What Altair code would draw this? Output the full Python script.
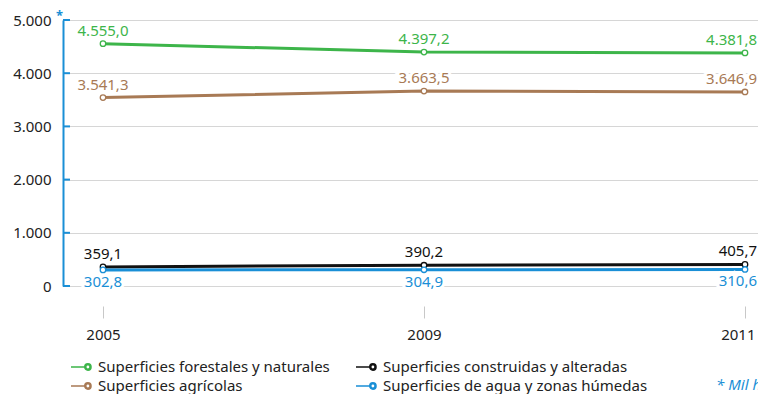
import altair as alt
import pandas as pd

FONT = "Noto Sans"
years = ["2005", "2009", "2011"]
series = [
    "Superficies forestales y naturales",
    "Superficies agrícolas",
    "Superficies construidas y alteradas",
    "Superficies de agua y zonas húmedas",
]
forestales = [4555.0, 4397.2, 4381.8]
agricolas = [3541.3, 3663.5, 3646.9]
construidas = [359.1, 390.2, 405.7]
agua = [302.8, 304.9, 310.6]
colors = ["#3db54a", "#a87a55", "#111111", "#1a8fd6"]
y_ticks = [0, 1000, 2000, 3000, 4000, 5000]
BLUE = "#1a8fd6"


def fmt(v):
    s = f"{v:,.1f}"
    return s.replace(",", "X").replace(".", ",").replace("X", ".")


rows = []
for s, vals in zip(series, [forestales, agricolas, construidas, agua]):
    for i, (yr, v) in enumerate(zip(years, vals)):
        rows.append({"serie": s, "idx": i, "year": yr, "value": v, "label": fmt(v),
                     "pos": "below" if s == series[3] else "above"})
df = pd.DataFrame(rows)

year_arr = "[" + ",".join(f"'{y}'" for y in years) + "]"

X = alt.X("idx:Q",
          scale=alt.Scale(domain=[-0.1246, 2.0405], nice=False, zero=False),
          axis=alt.Axis(values=[0, 1, 2], labelExpr=f"{year_arr}[datum.value]",
                        grid=False, domain=False, ticks=True, tickColor="#c8c8c8",
                        tickSize=12, offset=20, labelPadding=9, title=None,
                        labelFlush=15, labelFlushOffset=10,
                        labelFontSize=15, labelColor="#222", labelFont=FONT))
Y = alt.Y("value:Q",
          scale=alt.Scale(domain=[0, 5000], nice=False),
          axis=alt.Axis(values=y_ticks,
                        labelExpr="replace(format(datum.value, ','), ',', '.')",
                        grid=True, gridColor="#d6d6d6", gridWidth=1,
                        domainColor=BLUE, domainWidth=2, ticks=False,
                        labelPadding=12, title=None, labelFontSize=15,
                        labelColor="#222", labelFont=FONT))

SCALE = alt.Scale(domain=series, range=colors)
# line + ring (outer and inner circle in opposite directions -> hollow centre)
SYMBOL = ("M-1,0L0.38,0"
          "M0.38,0A0.31,0.31,0,1,1,1,0A0.31,0.31,0,1,1,0.38,0Z"
          "M0.47,0A0.22,0.22,0,1,0,0.91,0A0.22,0.22,0,1,0,0.47,0Z")
LEGEND = alt.Legend(title=None, orient="none", legendX=7, legendY=336, columns=2,
                    columnPadding=22, symbolType=SYMBOL, symbolSize=400,
                    symbolStrokeWidth=1.6,
                    labelFontSize=15, labelFont=FONT, labelLimit=0,
                    labelColor="#222", rowPadding=0, labelOffset=6)
COLOR_LEG = alt.Color("serie:N", scale=SCALE, legend=LEGEND)
COLOR = alt.Color("serie:N", scale=SCALE, legend=None)

base = alt.Chart(df)
lines = base.mark_line(strokeWidth=3).encode(x=X, y=Y, color=COLOR_LEG, detail="serie:N")
points = base.mark_point(filled=False, fill="white", fillOpacity=1, size=30,
                         strokeWidth=1.3, opacity=1).encode(x=X, y=Y, color=COLOR)


def label_layers(pos, last):
    dy = 12 if pos == "below" else -13
    align = "right" if last else "center"
    dx = 12 if last else 0
    filt = f"datum.pos == '{pos}' && datum.idx {'==' if last else '<'} 2"
    kw = dict(dy=dy, dx=dx, align=align, baseline="middle", fontSize=15, font=FONT)
    halo = base.transform_filter(filt).mark_text(color="white", stroke="white",
                                                  strokeWidth=6, **kw).encode(
        x=X, y=Y, text="label:N")
    txt = base.transform_filter(filt).mark_text(**kw).encode(
        x=X, y=Y, text="label:N", color=COLOR)
    return [halo, txt]


labels = []
for p in ["above", "below"]:
    for last in [False, True]:
        labels += label_layers(p, last)

stubs = alt.Chart(pd.DataFrame({"value": y_ticks})).mark_rule(
    color=BLUE, strokeWidth=2).encode(y=Y, x=alt.value(0), x2=alt.value(7))

star = alt.Chart(pd.DataFrame({"t": ["*"]})).mark_text(
    color=BLUE, fontSize=13, align="left", baseline="top", font=FONT,
    fontWeight="bold").encode(text="t:N", x=alt.value(-7), y=alt.value(-10))

note = alt.Chart(pd.DataFrame({"t": ["* Mil ha"]})).mark_text(
    color=BLUE, fontSize=15, align="left", baseline="middle", font=FONT,
    fontStyle="italic").encode(text="t:N", x=alt.value(653), y=alt.value(365))

chart = alt.layer(lines, *labels, points, stubs, star, note).properties(
    width=695, height=266,
    padding={"left": 55, "top": 12, "right": 0, "bottom": 108},
    autosize=alt.AutoSizeParams(type="none"),
).configure_view(stroke=None)

chart.save("out.html", embed_options={"renderer": "svg", "actions": False})
